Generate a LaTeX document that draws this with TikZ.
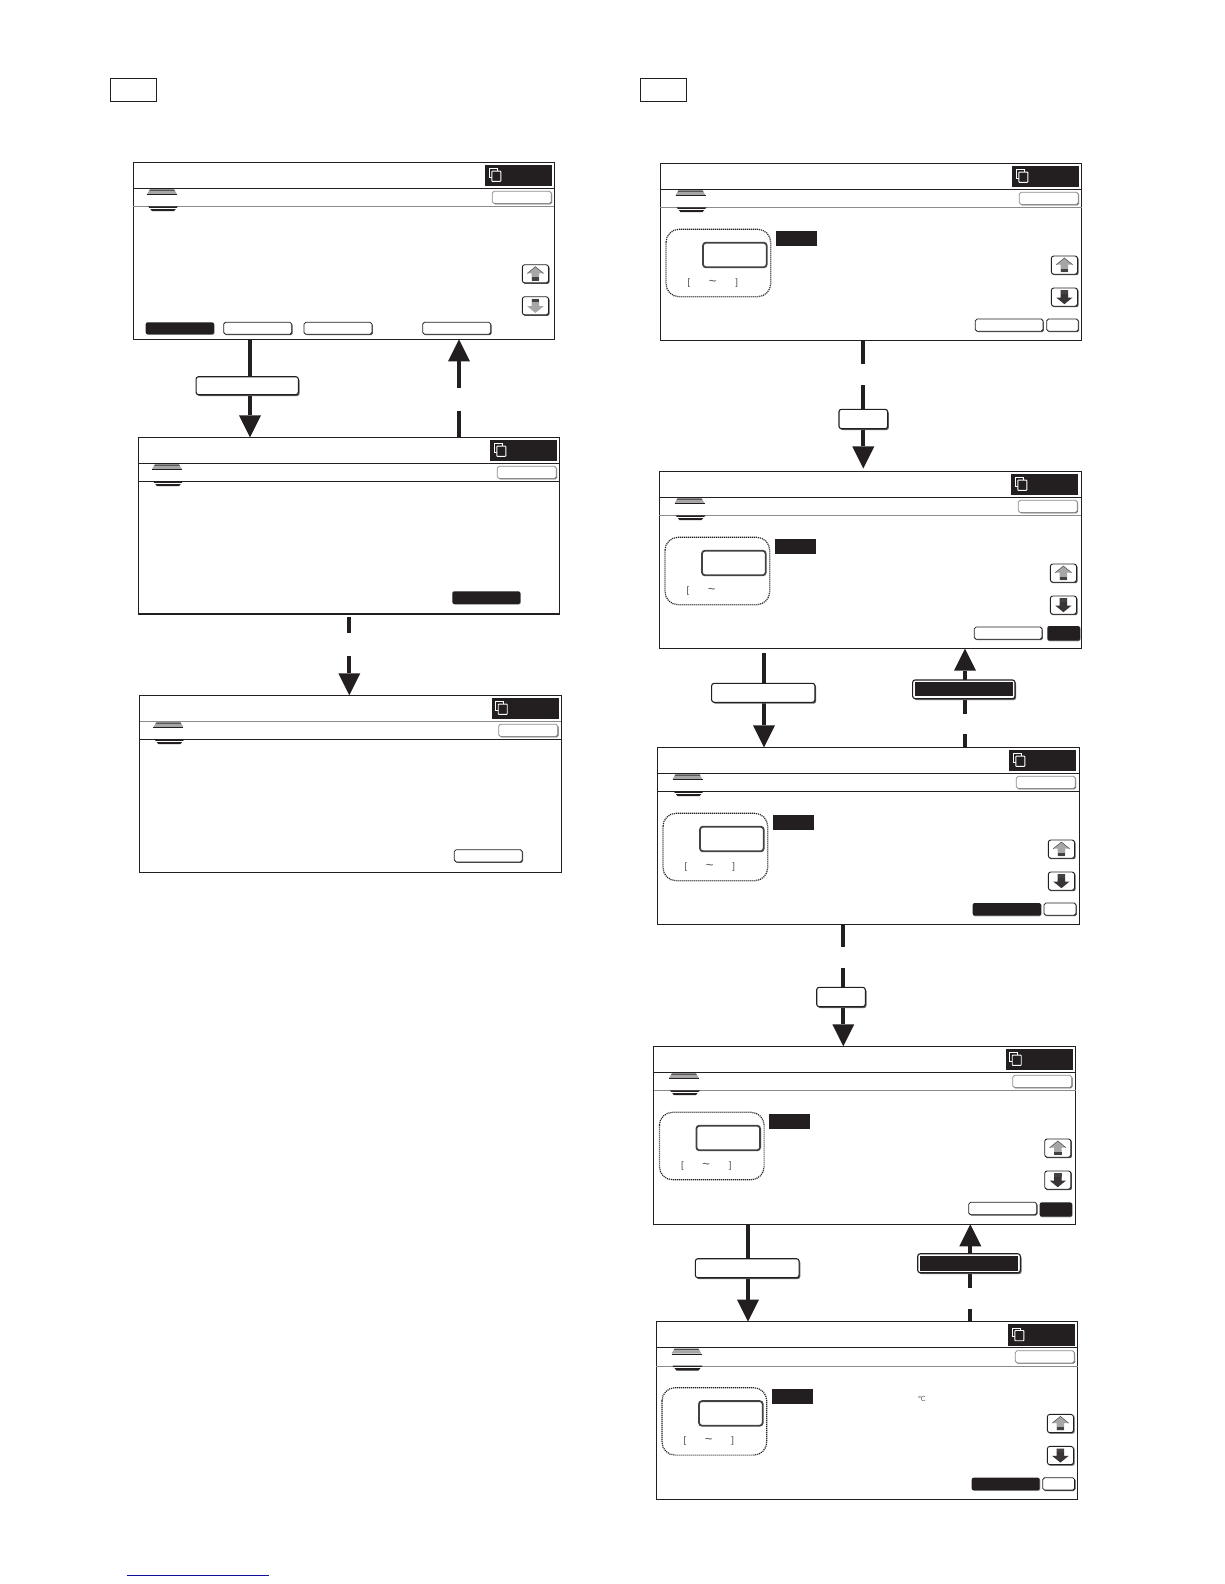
\documentclass[tikz,border=0pt]{standalone}
\usepackage{fontspec}
\setmainfont{Liberation Sans}
\newfontfamily\djvfont{DejaVu Sans}
\usetikzlibrary{arrows.meta,shadows,calc}
\definecolor{ink}{HTML}{231F20}
\definecolor{soft}{HTML}{8C8C8C}
\definecolor{midgray}{HTML}{A6A6A6}
\definecolor{linkblue}{HTML}{10109A}
\tikzset{
  x=1pt,y=-1pt,
  screenbox/.style={draw=ink,line width=1.2pt,fill=white,rectangle,inner sep=0,outer sep=0,anchor=north west},
  headbox/.style={draw=ink,line width=1.1pt,fill=white,rectangle,inner sep=0,outer sep=0,minimum width=46.4pt,minimum height=23pt,anchor=north west},
  bar/.style={draw=ink,line width=4.3pt},
  head/.style={draw=ink,line width=4.3pt,-{Triangle[length=22pt,width=22pt,line width=0pt]}},
  flowbtn/.style={draw=ink,line width=1.1pt,fill=white,rectangle,rounded corners=2.5pt,inner sep=0,outer sep=0,general shadow={fill=ink!70,shadow xshift=1.2pt,shadow yshift=-1.4pt}},
  uiline/.style={line width=1.1pt},
  wbtnline/.style={draw=ink,line width=0.8pt,fill=white,rounded corners=1.8pt},
  bbtnfill/.style={fill=ink,rounded corners=2pt},
  softbtn/.style={draw=soft,line width=0.8pt,fill=white,rounded corners=1.8pt},
  smalltxt/.style={text=ink!80,font=\fontsize{9.5}{9.5}\selectfont,inner sep=0,outer sep=0},
  tildetxt/.style={text=ink!80,font=\fontsize{13}{13}\selectfont,inner sep=0,outer sep=0},
}
% elements in coordinates relative to a screen's top left corner
\newcommand\wbtn[4]{%
  \fill[ink!75,rounded corners=1.8pt] ({#1+0.9},{#2+0.9}) rectangle ({#3+0.9},{#4+0.9});
  \path[wbtnline] (#1,#2) rectangle (#3,#4);}
\newcommand\bbtn[4]{%
  \fill[midgray,rounded corners=2pt] ({#1+0.6},{#2+0.6}) rectangle ({#3+0.6},{#4+0.6});
  \path[bbtnfill] (#1,#2) rectangle (#3,#4);}
\newcommand\topbtn{%
  \fill[ink!70,rounded corners=1.8pt] (359.7,29.7) rectangle (418.8,42);
  \path[softbtn] (359,29) rectangle (418,41.2);}
\newcommand\tabbox{%
  \fill[ink] (352,2.7) rectangle (419,24);
  \draw[white,line width=0.9pt] (356,6.5) rectangle (364,15);
  \draw[white,fill=ink,line width=0.9pt,rounded corners=0.6pt] (358.5,8.8) rectangle (367.5,19);}
\newcommand\tabicon[1]{%
  \begin{scope}[shift={(#1,0)}]
    \fill[ink!80] (3,27) -- (27,27) -- (28,28.6) -- (2,28.6) -- cycle;
    \fill[midgray] (2,28.6) -- (28,28.6) -- (30,32) -- (0,32) -- cycle;
    \draw[ink,line width=0.8pt] (0,32.4) -- (30,32.4);
    \fill[ink] (1,44) -- (31,44) -- (27,48.8) -- (5,48.8) -- cycle;
    \draw[white,line width=0.7pt] (2,45.9) -- (30,45.9);
  \end{scope}}
\newcommand\upbtn[2]{%
  \begin{scope}[shift={(#1,#2)}]
    \fill[ink!75,rounded corners=2pt] (0.9,0.9) rectangle (27.2,19.2);
    \draw[ink,line width=0.9pt,fill=white,rounded corners=2.5pt] (0,0) rectangle (26.2,18.2);
    \fill[midgray] (13.1,2) -- (21.3,8.7) -- (16.8,8.7) -- (16.8,16) -- (9.4,16) -- (9.4,8.7) -- (4.9,8.7) -- cycle;
    \draw[ink!80,line width=0.5pt] (4.9,8.7) -- (13.1,2) -- (21.3,8.7);
    \fill[ink!85] (9.4,12.5) rectangle (16.8,16);
  \end{scope}}
\newcommand\dnbtn[3]{%
  \begin{scope}[shift={(#1,#2)}]
    \fill[ink!75,rounded corners=2pt] (0.9,0.9) rectangle (27.2,19.2);
    \draw[ink,line width=0.9pt,fill=white,rounded corners=2.5pt] (0,0) rectangle (26.2,18.2);
    \fill[#3] (13.1,16.2) -- (21.3,9.5) -- (16.8,9.5) -- (16.8,2.2) -- (9.4,2.2) -- (9.4,9.5) -- (4.9,9.5) -- cycle;
    \fill[ink!85] (9.4,2.2) rectangle (16.8,5.7);
  \end{scope}}
\newcommand\rulerows[2]{%
  \draw[#1,uiline] (0,26) -- (422,26);
  \draw[#2,line width=1.1pt] (0,44.6) -- (422,44.6);}
\newcommand\entry[1]{%
  \draw[ink,line width=1.2pt,dash pattern=on 1.1pt off 0.9pt,rounded corners=13pt] (5.7,66) rectangle (110.4,133.4);
  \draw[ink!85,line width=1.8pt,rounded corners=3pt] (42.7,79.4) rectangle (106.4,104);
  \fill[ink] (115.7,67.7) rectangle (156.7,82.7);
  \upbtn{391}{92.7}
  \dnbtn{391}{124.7}{ink!90}
  \node[smalltxt] (#1lb) at (28.7,119.3) {[};
  \node[tildetxt] (#1tl) at (52.4,119.4) {\textasciitilde};}
\newcommand\entryclose[1]{\node[smalltxt] (#1rb) at (76.4,119.3) {]};}
\begin{document}
\begin{tikzpicture}
\useasboundingbox (0,0) rectangle (1224,1584);
\fill[white] (0,0) rectangle (1224,1584);
\node[headbox] (hL) at (110.3,78.3) {};
\node[headbox] (hR) at (640.3,78.3) {};
% screens
\node[screenbox,minimum width=421pt,minimum height=177pt] (S1) at (133.3,162.3) {};
\begin{scope}[shift={(S1.north west)}]
  \draw[ink,uiline] (0,26) -- (421,26);
  \draw[soft,uiline] (0,44.5) -- (421,44.5);
  \tabicon{13.7}\tabbox\topbtn
  \upbtn{389}{102.4}
  \dnbtn{389}{134.4}{midgray}
  \bbtn{12.4}{160}{80.7}{172}
  \wbtn{90.4}{160}{158.4}{172}
  \wbtn{170.7}{160}{238.7}{172}
  \wbtn{289.4}{160}{357.4}{172}
\end{scope}
\node[screenbox,minimum width=421pt,minimum height=176.7pt] (S2) at (138.3,437.3) {};
\begin{scope}[shift={(S2.north west)}]
  \draw[ink,uiline] (0,26) -- (421,26);
  \draw[ink,uiline] (0,44) -- (421,44);
  \tabicon{13.7}\tabbox\topbtn
  \bbtn{314}{154}{382}{166.7}
\end{scope}
\node[screenbox,minimum width=421.6pt,minimum height=177pt] (S3) at (139.7,695.3) {};
\begin{scope}[shift={(S3.north west)}]
  \draw[soft,uiline] (0,26) -- (421.6,26);
  \draw[ink,uiline] (0,44) -- (421.6,44);
  \tabicon{13.7}\tabbox\topbtn
  \wbtn{314.6}{154.4}{382.6}{166.6}
\end{scope}
\node[screenbox,minimum width=421.4pt,minimum height=177.4pt] (R1) at (660.3,163.3) {};
\begin{scope}[shift={(R1.north west)}]
  \rulerows{ink}{soft}
  \tabicon{15.2}\tabbox\topbtn
  \entry{R1}\entryclose{R1}
  \wbtn{315}{155.7}{382.7}{168}
  \wbtn{386.4}{155.7}{418}{168}
\end{scope}
\node[screenbox,minimum width=422.4pt,minimum height=177.4pt] (R2) at (659.3,471.3) {};
\begin{scope}[shift={(R2.north west)}]
  \rulerows{ink}{soft}
  \tabicon{15.2}\tabbox\topbtn
  \entry{R2}
  \wbtn{315}{155.7}{382.7}{168}
  \bbtn{388}{154.7}{420.7}{169.4}
\end{scope}
\node[screenbox,minimum width=422.4pt,minimum height=177pt] (R3) at (657.3,747.3) {};
\begin{scope}[shift={(R3.north west)}]
  \rulerows{ink}{ink}
  \tabicon{15.2}\tabbox\topbtn
  \entry{R3}\entryclose{R3}
  \bbtn{315.4}{155.7}{383.7}{168.4}
  \wbtn{386.7}{155.7}{418.7}{168}
\end{scope}
\node[screenbox,minimum width=422pt,minimum height=178pt] (R4) at (653.7,1046.3) {};
\begin{scope}[shift={(R4.north west)}]
  \rulerows{ink}{soft}
  \tabicon{15.2}\tabbox\topbtn
  \entry{R4}\entryclose{R4}
  \wbtn{315}{156}{383}{168.4}
  \bbtn{386}{156}{418.3}{170.4}
\end{scope}
\node[screenbox,minimum width=421.4pt,minimum height=177.6pt] (R5) at (656.3,1321.7) {};
\begin{scope}[shift={(R5.north west)}]
  \rulerows{ink}{soft}
  \tabicon{15.2}\tabbox\topbtn
  \entry{R5}\entryclose{R5}
  \bbtn{315.4}{156}{383.4}{168.6}
  \wbtn{386.4}{156}{418.3}{168.4}
\end{scope}
\node[text=ink!75,inner sep=0,font=\djvfont\fontsize{7}{7}\selectfont] (deg) at (921.7,1398.7) {℃};
% connector columns and break points
\coordinate (cA) at (250,0);
\coordinate (cB) at (459,0);
\coordinate (cC) at (349.3,0);
\coordinate (cD) at (863.3,0);
\coordinate (cE) at (764,0);
\coordinate (cF) at (965,0);
\coordinate (cG) at (843.3,0);
\coordinate (cH) at (748,0);
\coordinate (cI) at (970.3,0);
\coordinate (B1) at (459,411);   \coordinate (B2) at (459,387.7);
\coordinate (C0) at (349.3,616.7); \coordinate (C1) at (349.3,632.7); \coordinate (C2) at (349.3,656);
\coordinate (D1) at (863.3,363.7); \coordinate (D2) at (863.3,385); \coordinate (D3) at (863.3,468.4);
\coordinate (E0) at (764,653.3);
\coordinate (F1) at (965,734);   \coordinate (F2) at (965,714);
\coordinate (G1) at (843.3,946.7); \coordinate (G2) at (843.3,968.3);
\coordinate (I1) at (970.3,1309.2); \coordinate (I2) at (970.3,1288.3);
% connectors
\draw[head] (cA |- S1.south) -- (cA |- S2.north);
\draw[bar] (cB |- S2.north) -- (B1);
\draw[head] (B2) -- (cB |- S1.south);
\draw[bar] (C0) -- (C1);
\draw[head] (C2) -- (cC |- S3.north);
\draw[bar] (cD |- R1.south) -- (D1);
\draw[head] (D2) -- (D3);
\draw[head] (E0) -- (cE |- R3.north);
\draw[bar] (cF |- R3.north) -- (F1);
\draw[head] (F2) -- (cF |- R2.south);
\draw[bar] (cG |- R3.south) -- (G1);
\draw[head] (G2) -- (cG |- R4.north);
\draw[head] (cH |- R4.south) -- (cH |- R5.north);
\draw[bar] (cI |- R5.north) -- (I1);
\draw[head] (I2) -- (cI |- R4.south);
% flow buttons
\node[flowbtn,minimum width=102.3pt,minimum height=18pt] (fA) at (247.2,385.7) {};
\node[flowbtn,minimum width=48.7pt,minimum height=19.4pt] (fD) at (863.3,419) {};
\node[flowbtn,minimum width=103.3pt,minimum height=19pt] (fE) at (763.3,692.8) {};
\node[flowbtn,minimum width=102.3pt,minimum height=18.7pt] (fF) at (963.8,689.3) {};
\fill[ink] ([shift={(2.2,2.2)}]fF.north west) rectangle ([shift={(-2.2,-2.2)}]fF.south east);
\node[flowbtn,minimum width=48.6pt,minimum height=19.4pt] (fG) at (841,997) {};
\node[flowbtn,minimum width=103.7pt,minimum height=19pt] (fH) at (747.2,1268.2) {};
\node[flowbtn,minimum width=102.6pt,minimum height=19pt] (fI) at (969,1263.2) {};
\fill[ink] ([shift={(2,2)}]fI.north west) rectangle ([shift={(-2.4,-2)}]fI.south east);
% link rule at the foot of the page
\coordinate (u1) at (126.7,1575.3);
\coordinate (u2) at (269,1575.3);
\draw[linkblue,line width=1.1pt] (u1) -- (u2);
\end{tikzpicture}
\end{document}
